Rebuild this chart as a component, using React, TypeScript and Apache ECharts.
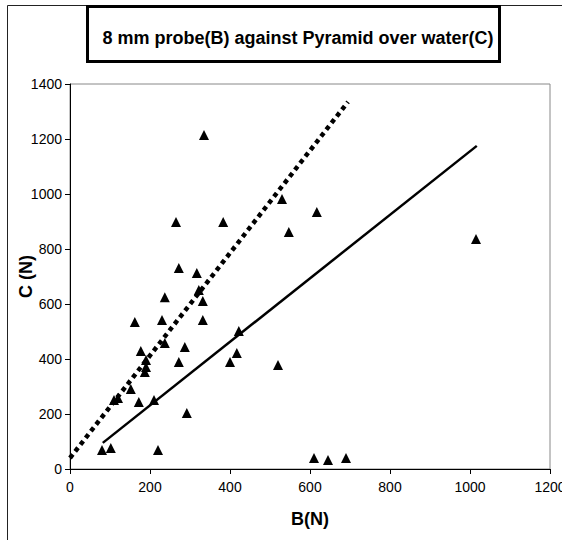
import React, { useEffect, useRef } from "react";
import * as echarts from "echarts";

const B_VALUES = [335, 265, 383, 272, 317, 322, 237, 332, 162, 230, 332, 422, 237, 177, 287, 190, 190, 187, 272, 400, 417, 152, 110, 120, 172, 210, 292, 80, 102, 220, 530, 617, 547, 520, 610, 645, 690, 1015];
const C_VALUES = [1215, 898, 898, 731, 713, 651, 625, 611, 535, 542, 542, 502, 458, 429, 444, 396, 371, 353, 389, 389, 422, 291, 251, 258, 244, 251, 204, 69, 76, 69, 982, 935, 862, 378, 40, 33, 40, 836];
const SOLID_TREND = [[82, 95], [1017, 1175]];
const DOTTED_TREND = [[0, 40], [695, 1335]];
const X_TICKS = [0, 200, 400, 600, 800, 1000, 1200];
const Y_TICKS = [0, 200, 400, 600, 800, 1000, 1200, 1400];
const TITLE = "8 mm probe(B) against Pyramid over water(C)";

const FONT = "'Liberation Sans', Arial, sans-serif";

export default function App() {
  const ref = useRef<HTMLDivElement>(null);
  useEffect(() => {
    if (!ref.current) return;
    const chart = echarts.init(ref.current, null, { renderer: "svg" });
    const points = B_VALUES.map((b, i) => [b, C_VALUES[i]]);
    chart.setOption({
      animation: false,
      backgroundColor: "#fff",
      textStyle: { fontFamily: FONT },
      title: {
        text: TITLE,
        left: 293,
        top: 33,
        textAlign: "center",
        textVerticalAlign: "middle",
        textStyle: { fontFamily: FONT, fontSize: 18, fontWeight: "bold", color: "#000" },
      },
      graphic: [
        { type: "rect", shape: { x: 7.5, y: 5.5, width: 700, height: 700 }, style: { fill: "none", stroke: "#222", lineWidth: 1 }, silent: true, z: -10 },
        { type: "rect", shape: { x: 87.5, y: 6.5, width: 412, height: 55 }, style: { fill: "#fff", stroke: "#000", lineWidth: 3 }, silent: true, z: -5 },
      ],
      grid: { left: 70, top: 84, right: 12, bottom: 71, containLabel: false, outerBoundsMode: "none", show: true, borderColor: "#888", borderWidth: 1, backgroundColor: "transparent" },
      xAxis: {
        type: "value",
        min: X_TICKS[0],
        max: X_TICKS[X_TICKS.length - 1],
        interval: 200,
        name: "B(N)",
        nameLocation: "middle",
        nameGap: 50,
        nameMoveOverlap: false,
        nameTextStyle: { fontFamily: FONT, fontSize: 18, fontWeight: "bold", color: "#000", verticalAlign: "middle" },
        axisLine: { show: true, lineStyle: { color: "#000", width: 1 } },
        axisTick: { show: true, inside: false, length: 5, lineStyle: { color: "#000" } },
        axisLabel: { color: "#000", fontSize: 14, fontFamily: FONT, margin: 11, formatter: (v: number) => String(v) },
        splitLine: { show: false },
      },
      yAxis: {
        type: "value",
        min: Y_TICKS[0],
        max: Y_TICKS[Y_TICKS.length - 1],
        interval: 200,
        name: "C (N)",
        nameLocation: "middle",
        nameGap: 35,
        nameMoveOverlap: false,
        nameRotate: 90,
        nameTextStyle: { fontFamily: FONT, fontSize: 18, fontWeight: "bold", color: "#000" },
        axisLine: { show: true, lineStyle: { color: "#000", width: 1 } },
        axisTick: { show: true, inside: false, length: 5, lineStyle: { color: "#000" } },
        axisLabel: { color: "#000", fontSize: 14, fontFamily: FONT, margin: 8, formatter: (v: number) => String(v) },
        splitLine: { show: false },
      },
      series: [
        {
          type: "line",
          data: DOTTED_TREND,
          symbol: "none",
          lineStyle: { color: "#000", width: 4.5, type: [4.5, 4], cap: "butt" },
          z: 2,
        },
        {
          type: "line",
          data: SOLID_TREND,
          symbol: "none",
          lineStyle: { color: "#000", width: 2.5, type: "solid" },
          z: 2,
        },
        {
          type: "scatter",
          data: points,
          symbol: "triangle",
          symbolSize: [10, 10],
          itemStyle: { color: "#000", opacity: 1 },
          z: 3,
        },
      ],
    });
    return () => chart.dispose();
  }, []);
  return <div ref={ref} style={{ position: "absolute", left: 0, top: 0, width: 562, height: 540 }} />;
}
